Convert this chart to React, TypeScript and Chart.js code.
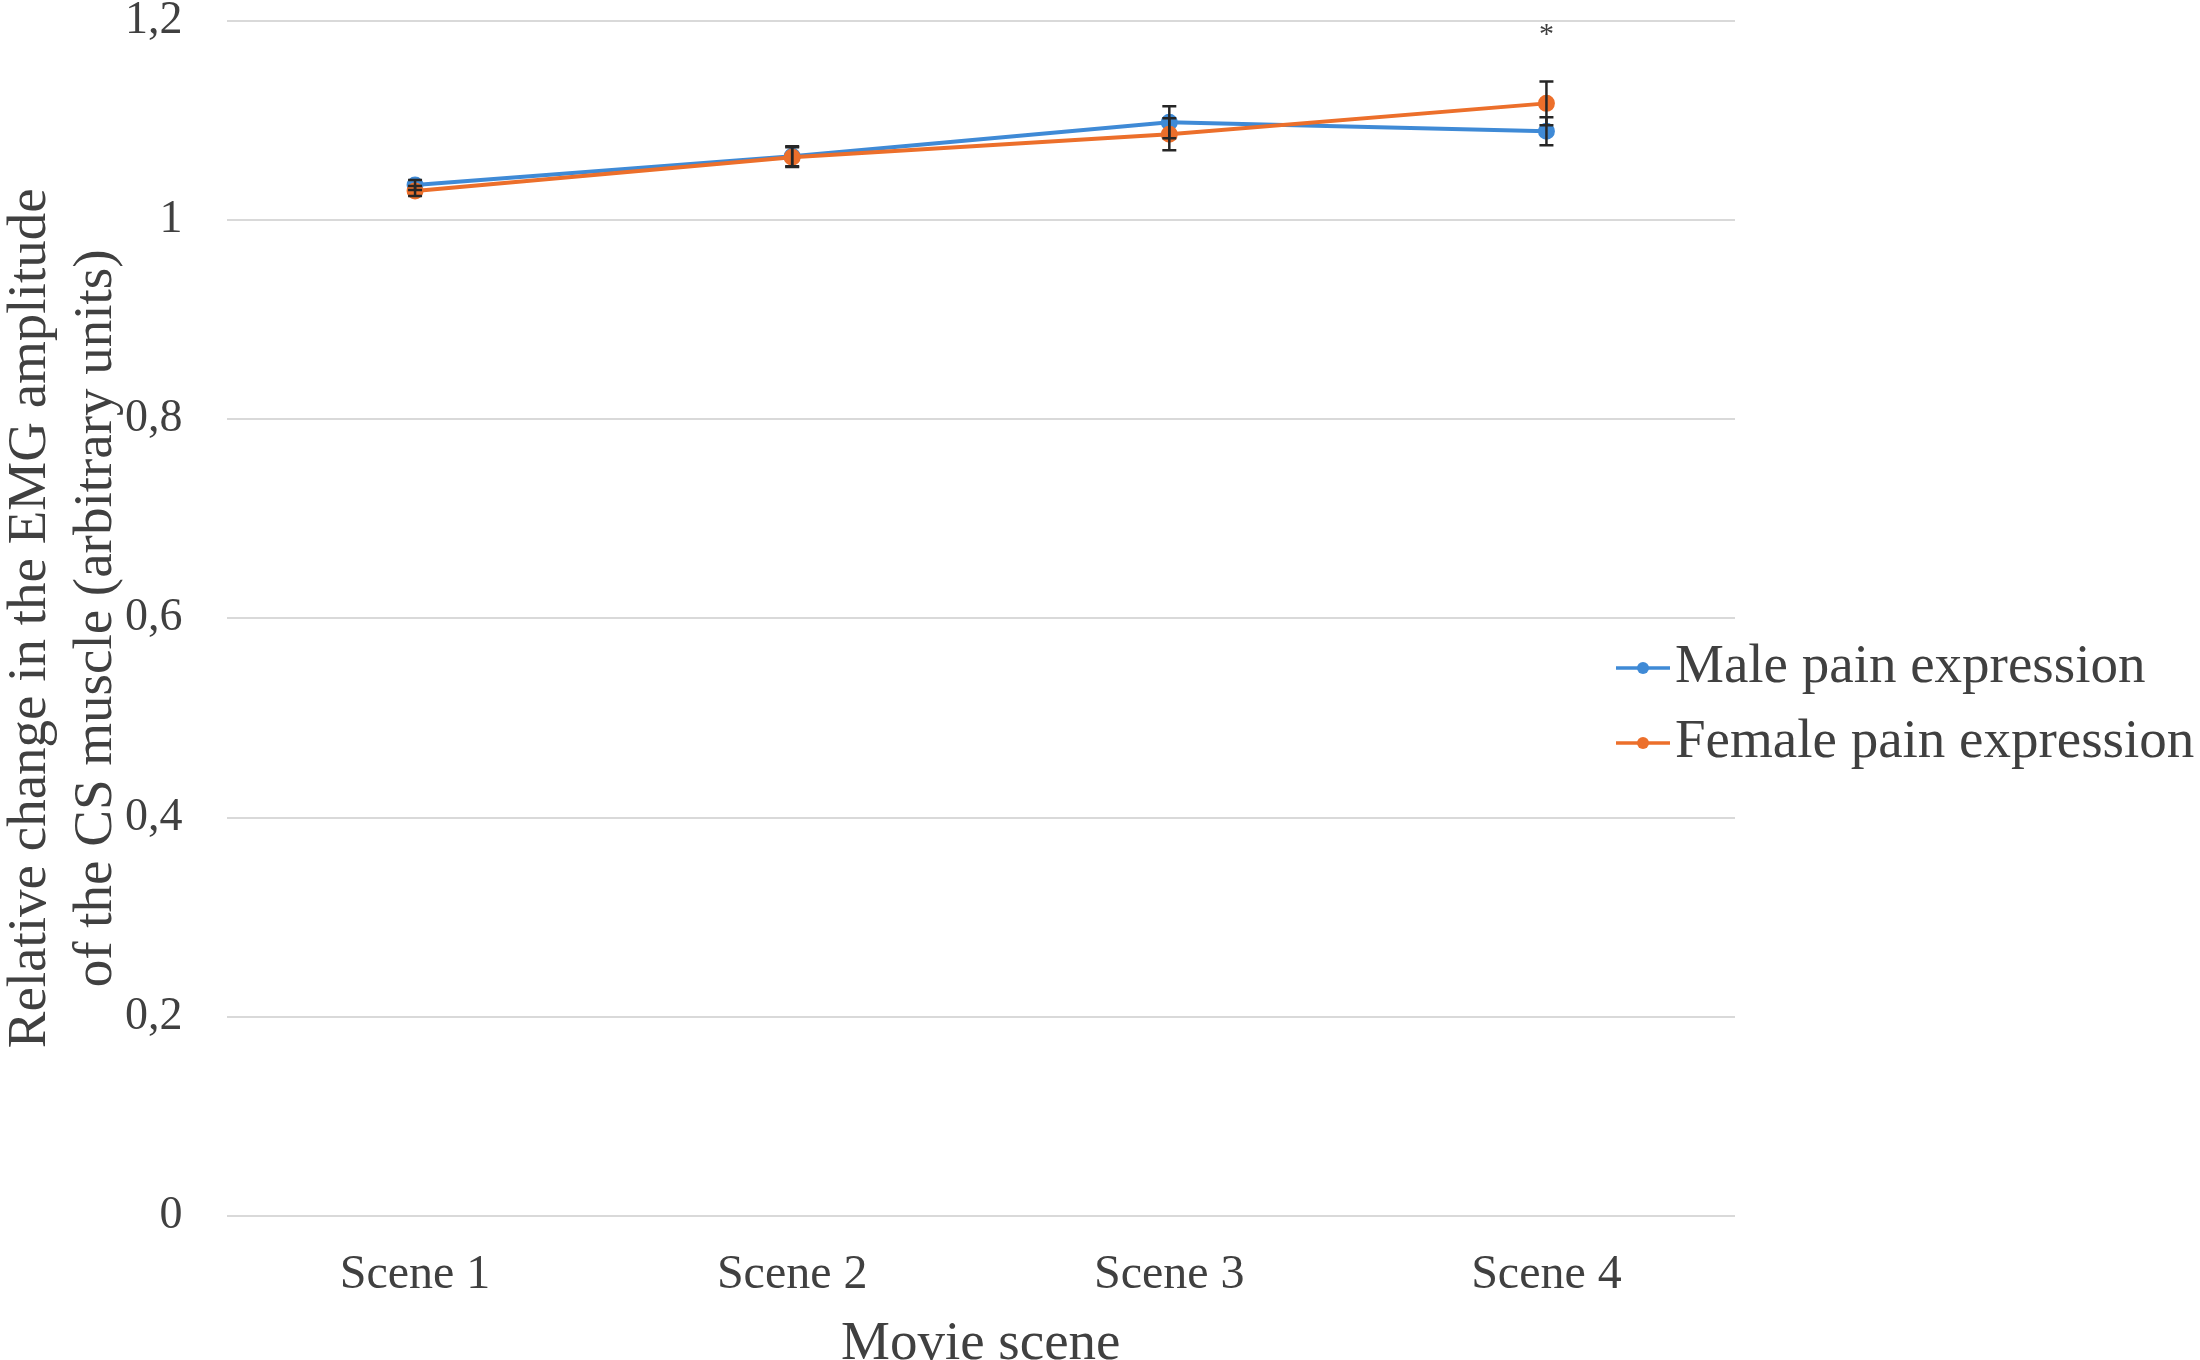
import { useEffect, useRef } from "react";
import Chart from "chart.js/auto";

// values
const scenes = ["Scene 1", "Scene 2", "Scene 3", "Scene 4"];
const maleValues = [1.035, 1.064, 1.098, 1.089];
const maleErrors = [0.005, 0.01, 0.016, 0.014];
const femaleValues = [1.029, 1.063, 1.086, 1.117];
const femaleErrors = [0.005, 0.01, 0.016, 0.022];
const significance = ["", "", "", "*"];
const yTicks = [0, 0.2, 0.4, 0.6, 0.8, 1, 1.2];

const FONT = "'Liberation Serif', 'Times New Roman', serif";
const TEXT = "#404040";

// error bars + significance marks, drawn from the y scale
const errorBars = {
  id: "errorBars",
  afterDatasetsDraw(chart: any) {
    const { ctx } = chart;
    const y = chart.scales.y;
    ctx.save();
    ctx.strokeStyle = "#262626";
    ctx.lineWidth = 2.5;
    chart.data.datasets.forEach((ds: any, i: number) => {
      const meta = chart.getDatasetMeta(i);
      meta.data.forEach((pt: any, j: number) => {
        const v = ds.data[j];
        const e = ds.errors[j];
        const top = y.getPixelForValue(v + e);
        const bot = y.getPixelForValue(v - e);
        ctx.beginPath();
        ctx.moveTo(pt.x, top);
        ctx.lineTo(pt.x, bot);
        ctx.moveTo(pt.x - 7, top);
        ctx.lineTo(pt.x + 7, top);
        ctx.moveTo(pt.x - 7, bot);
        ctx.lineTo(pt.x + 7, bot);
        ctx.stroke();
      });
    });
    const x = chart.scales.x;
    ctx.fillStyle = TEXT;
    ctx.font = `30px ${FONT}`;
    ctx.textAlign = "center";
    ctx.textBaseline = "middle";
    significance.forEach((s, j) => {
      if (s) ctx.fillText(s, x.getPixelForValue(j), y.getPixelForValue(1.19) + 4);
    });
    ctx.restore();
  },
};

// Excel-like legend that sits over the right edge of the plot
const sideLegend = {
  id: "sideLegend",
  afterDraw(chart: any) {
    const { ctx } = chart;
    ctx.save();
    chart.data.datasets.forEach((ds: any, i: number) => {
      const yy = 668 + i * 75;
      ctx.strokeStyle = ds.borderColor;
      ctx.lineWidth = 3.5;
      ctx.beginPath();
      ctx.moveTo(1616, yy);
      ctx.lineTo(1670, yy);
      ctx.stroke();
      ctx.fillStyle = ds.borderColor;
      ctx.beginPath();
      ctx.arc(1643, yy, 6, 0, Math.PI * 2);
      ctx.fill();
      ctx.fillStyle = TEXT;
      ctx.font = `55px ${FONT}`;
      ctx.textAlign = "left";
      ctx.textBaseline = "middle";
      ctx.fillText(ds.label, 1675, yy);
    });
    ctx.restore();
  },
};

export default function App() {
  const canvasRef = useRef<HTMLCanvasElement | null>(null);
  const chartRef = useRef<Chart | null>(null);

  useEffect(() => {
    document.body.style.margin = "0";
    document.body.style.overflow = "hidden";
    if (!canvasRef.current) return;
    const ctx = canvasRef.current.getContext("2d");
    if (!ctx) return;

    if (chartRef.current) chartRef.current.destroy();

    chartRef.current = new Chart(ctx, {
      type: "line",
      data: {
        labels: scenes,
        datasets: [
          {
            label: "Male pain expression",
            data: maleValues,
            errors: maleErrors,
            borderColor: "#3f8ad6",
            backgroundColor: "#3f8ad6",
            borderWidth: 4,
            pointRadius: 6.5,
            order: 1,
          } as any,
          {
            label: "Female pain expression",
            data: femaleValues,
            errors: femaleErrors,
            borderColor: "#ec6f2b",
            backgroundColor: "#ec6f2b",
            borderWidth: 4,
            pointRadius: 6.5,
            order: 0,
          } as any,
        ],
      },
      options: {
        responsive: true,
        maintainAspectRatio: false,
        animation: false,
        layout: { padding: { top: 0, right: 465, left: -7, bottom: 0 } },
        plugins: {
          legend: { display: false },
          tooltip: { enabled: false },
        },
        scales: {
          x: {
            offset: true,
            grid: {
              display: true,
              drawOnChartArea: false,
              color: "rgba(0,0,0,0)",
              tickColor: "rgba(0,0,0,0)",
              tickLength: 32,
            },
            border: { display: false },
            ticks: {
              color: TEXT,
              padding: 3,
              maxRotation: 0,
              font: { family: FONT, size: 48, lineHeight: 1 },
            },
            title: {
              display: true,
              text: "Movie scene",
              color: TEXT,
              padding: { top: 15, bottom: 0 },
              font: { family: FONT, size: 55, lineHeight: 1 },
            },
          },
          y: {
            min: 0,
            max: 1.2,
            afterBuildTicks: (scale: any) => {
              scale.ticks = yTicks.map((v) => ({ value: v }));
            },
            grid: {
              color: "#d9d9d9",
              lineWidth: 2,
              drawTicks: true,
              tickLength: 44,
              tickColor: "rgba(0,0,0,0)",
            },
            border: { display: false },
            ticks: {
              color: TEXT,
              padding: 0,
              font: { family: FONT, size: 46, lineHeight: 0.9 },
              callback: (v: any) => String(Number(Number(v).toFixed(1))).replace(".", ","),
            },
            title: {
              display: true,
              text: ["Relative change in the EMG amplitude", "of the CS muscle (arbitrary units)"],
              color: TEXT,
              padding: { top: 5, bottom: -5 },
              font: { family: FONT, size: 55, lineHeight: 1.2 },
            },
          },
        },
      },
      plugins: [errorBars, sideLegend],
    });

    return () => chartRef.current?.destroy();
  }, []);

  return (
    <div style={{ position: "fixed", left: 0, top: 0, width: "2200px", height: "1372px", background: "#fff" }}>
      <canvas ref={canvasRef}></canvas>
    </div>
  );
}
